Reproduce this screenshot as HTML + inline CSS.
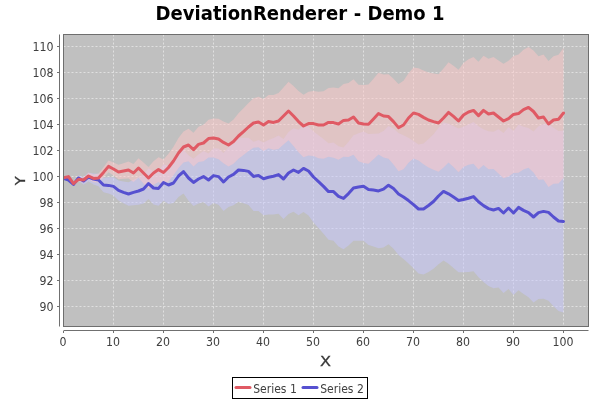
<!DOCTYPE html>
<html lang="en"><head><meta charset="utf-8"><title>DeviationRenderer - Demo 1</title>
<style>
html,body{margin:0;padding:0;background:#fff;}
body{width:600px;height:400px;overflow:hidden;}
svg{display:block;}
text{font-family:"DejaVu Sans Condensed","DejaVu Sans","Liberation Sans",sans-serif;}
.t{font-size:12px;fill:#404040;}
.al{font-family:"DejaVu Sans","Liberation Sans",sans-serif;font-size:14px;fill:#383838;stroke:#383838;stroke-width:0.3px;}
</style></head><body>
<svg width="600" height="400" viewBox="0 0 600 400">
<rect width="600" height="400" fill="#ffffff"/>
<text y="19.75" font-weight="bold" font-size="19.5" fill="#000"><tspan x="155.6" textLength="191.5" lengthAdjust="spacingAndGlyphs">DeviationRenderer</tspan><tspan x="347.5" textLength="97" lengthAdjust="spacingAndGlyphs"> - Demo 1</tspan></text>
<clipPath id="cp"><rect x="63.5" y="34.5" width="525.0" height="292.0"/></clipPath>
<rect x="63.5" y="34.5" width="525.0" height="292.0" fill="#c0c0c0"/>
<g stroke="#ffffff" stroke-width="1" stroke-dasharray="2 2" stroke-opacity="0.5" fill="none"><line x1="63.50" y1="34.5" x2="63.50" y2="326.5"/><line x1="113.50" y1="34.5" x2="113.50" y2="326.5"/><line x1="163.50" y1="34.5" x2="163.50" y2="326.5"/><line x1="213.50" y1="34.5" x2="213.50" y2="326.5"/><line x1="263.50" y1="34.5" x2="263.50" y2="326.5"/><line x1="313.50" y1="34.5" x2="313.50" y2="326.5"/><line x1="363.50" y1="34.5" x2="363.50" y2="326.5"/><line x1="413.50" y1="34.5" x2="413.50" y2="326.5"/><line x1="463.50" y1="34.5" x2="463.50" y2="326.5"/><line x1="513.50" y1="34.5" x2="513.50" y2="326.5"/><line x1="563.50" y1="34.5" x2="563.50" y2="326.5"/><line x1="63.5" y1="306.5" x2="588.5" y2="306.5"/><line x1="63.5" y1="280.5" x2="588.5" y2="280.5"/><line x1="63.5" y1="254.5" x2="588.5" y2="254.5"/><line x1="63.5" y1="228.5" x2="588.5" y2="228.5"/><line x1="63.5" y1="202.5" x2="588.5" y2="202.5"/><line x1="63.5" y1="176.5" x2="588.5" y2="176.5"/><line x1="63.5" y1="150.5" x2="588.5" y2="150.5"/><line x1="63.5" y1="124.5" x2="588.5" y2="124.5"/><line x1="63.5" y1="98.5" x2="588.5" y2="98.5"/><line x1="63.5" y1="72.5" x2="588.5" y2="72.5"/><line x1="63.5" y1="46.5" x2="588.5" y2="46.5"/></g>
<g clip-path="url(#cp)">
<path d="M63.50,178.40 L68.50,179.09 L73.50,182.58 L78.50,175.27 L83.50,177.36 L88.50,172.45 L93.50,173.54 L98.50,173.63 L103.50,177.72 L108.50,177.21 L113.50,177.30 L118.50,180.39 L123.50,181.48 L128.50,182.17 L133.50,179.66 L138.50,177.35 L143.50,174.44 L148.50,168.13 L153.50,171.62 L158.50,171.11 L163.50,164.30 L168.50,165.89 L173.50,162.98 L178.50,155.07 L183.50,149.76 L188.50,155.25 L193.50,158.74 L198.50,154.43 L203.50,151.12 L208.50,153.61 L213.50,148.30 L218.50,148.39 L223.50,152.88 L228.50,146.97 L233.50,143.46 L238.50,138.15 L243.50,137.64 L248.50,137.73 L253.50,141.82 L258.50,140.11 L263.50,142.40 L268.50,139.89 L273.50,137.98 L278.50,135.47 L283.50,138.96 L288.50,132.05 L293.50,128.14 L298.50,129.63 L303.50,124.72 L308.50,126.41 L313.50,131.50 L318.50,135.19 L323.50,139.08 L328.50,143.37 L333.50,142.46 L338.50,146.35 L343.50,147.44 L348.50,141.73 L353.50,135.22 L358.50,133.31 L363.50,131.60 L368.50,134.09 L373.50,133.68 L378.50,133.57 L383.50,130.96 L388.50,126.05 L393.50,128.54 L398.50,133.03 L403.50,135.22 L408.50,137.81 L413.50,140.90 L418.50,144.39 L423.50,143.48 L428.50,139.07 L433.50,134.16 L438.50,127.75 L443.50,122.24 L448.50,123.73 L453.50,126.02 L458.50,128.51 L463.50,126.70 L468.50,124.49 L473.50,121.98 L478.50,126.27 L483.50,129.16 L488.50,131.25 L493.50,131.74 L498.50,129.23 L503.50,132.92 L508.50,127.01 L513.50,131.10 L518.50,124.59 L523.50,126.68 L528.50,127.97 L533.50,131.46 L538.50,126.15 L543.50,124.04 L548.50,124.13 L553.50,127.82 L558.50,130.91 L563.50,130.40 L563.50,312.40 L558.50,311.09 L553.50,306.18 L548.50,300.67 L543.50,298.76 L538.50,299.05 L533.50,302.54 L528.50,297.23 L523.50,294.12 L518.50,290.21 L513.50,294.90 L508.50,288.99 L503.50,293.08 L498.50,287.57 L493.50,288.26 L488.50,285.95 L483.50,282.04 L478.50,277.33 L473.50,271.22 L468.50,271.91 L463.50,272.30 L458.50,272.29 L453.50,267.98 L448.50,263.87 L443.50,260.56 L438.50,264.25 L433.50,268.84 L428.50,271.93 L423.50,274.52 L418.50,273.61 L413.50,268.30 L408.50,263.39 L403.50,258.98 L398.50,254.97 L393.50,248.66 L388.50,244.35 L383.50,247.44 L378.50,248.23 L373.50,246.52 L368.50,245.11 L363.50,240.80 L358.50,240.69 L353.50,240.78 L348.50,245.47 L343.50,249.36 L338.50,246.45 L333.50,240.74 L328.50,239.83 L323.50,233.72 L318.50,228.01 L313.50,222.50 L308.50,215.59 L303.50,212.08 L298.50,215.17 L293.50,211.86 L288.50,213.95 L283.50,219.04 L278.50,213.73 L273.50,214.42 L268.50,214.51 L263.50,215.20 L258.50,211.09 L253.50,210.98 L248.50,205.07 L243.50,203.16 L238.50,201.85 L233.50,205.34 L228.50,207.03 L223.50,211.12 L218.50,204.81 L213.50,202.90 L208.50,206.39 L203.50,202.08 L198.50,203.57 L193.50,206.06 L188.50,200.75 L183.50,193.44 L178.50,196.93 L173.50,203.02 L168.50,204.11 L163.50,200.70 L158.50,205.69 L153.50,204.38 L148.50,199.07 L143.50,203.56 L138.50,204.65 L133.50,205.14 L128.50,205.83 L123.50,203.32 L118.50,200.41 L113.50,195.50 L108.50,193.59 L103.50,192.28 L98.50,186.37 L93.50,184.46 L88.50,181.55 L83.50,184.64 L78.50,180.73 L73.50,186.22 L68.50,180.91 L63.50,178.40Z" fill="#c8c8ff" fill-opacity="0.5"/>
<path d="M63.50,177.80 L68.50,175.95 L73.50,182.30 L78.50,177.35 L83.50,177.40 L88.50,172.75 L93.50,174.50 L98.50,173.45 L103.50,167.20 L108.50,160.55 L113.50,162.50 L118.50,164.85 L123.50,163.20 L128.50,161.55 L133.50,163.90 L138.50,158.25 L143.50,162.60 L148.50,166.95 L153.50,161.30 L158.50,157.25 L163.50,159.50 L168.50,153.85 L173.50,146.70 L178.50,138.05 L183.50,131.40 L188.50,128.75 L193.50,132.70 L198.50,126.85 L203.50,124.80 L208.50,119.75 L213.50,118.50 L218.50,118.85 L223.50,121.60 L228.50,123.55 L233.50,119.50 L238.50,113.25 L243.50,108.20 L248.50,102.95 L253.50,98.30 L258.50,96.65 L263.50,99.00 L268.50,94.95 L273.50,95.10 L278.50,93.05 L283.50,87.40 L288.50,81.75 L293.50,86.10 L298.50,91.05 L303.50,94.80 L308.50,91.75 L313.50,91.10 L318.50,91.85 L323.50,91.20 L328.50,87.95 L333.50,87.50 L338.50,88.25 L343.50,84.00 L348.50,82.95 L353.50,79.30 L358.50,84.65 L363.50,85.00 L368.50,84.55 L373.50,78.70 L378.50,72.65 L383.50,74.40 L388.50,74.35 L393.50,78.70 L398.50,84.05 L403.50,80.80 L408.50,73.15 L413.50,67.50 L418.50,68.25 L423.50,70.60 L428.50,72.55 L433.50,73.50 L438.50,74.25 L443.50,68.60 L448.50,62.35 L453.50,65.70 L458.50,69.65 L463.50,63.00 L468.50,59.35 L473.50,57.10 L478.50,61.65 L483.50,55.80 L488.50,58.75 L493.50,57.10 L498.50,60.45 L503.50,63.80 L508.50,60.75 L513.50,55.90 L518.50,54.45 L523.50,49.80 L528.50,46.95 L533.50,50.40 L538.50,56.25 L543.50,54.60 L548.50,60.95 L553.50,56.30 L558.50,54.85 L563.50,48.00 L563.50,178.00 L558.50,183.55 L553.50,183.70 L548.50,187.05 L543.50,179.40 L538.50,179.75 L533.50,172.60 L528.50,167.85 L523.50,169.40 L518.50,172.75 L513.50,172.90 L508.50,176.45 L503.50,178.20 L498.50,173.55 L493.50,168.90 L488.50,169.25 L483.50,165.00 L478.50,169.55 L473.50,163.70 L468.50,164.65 L463.50,167.00 L458.50,172.35 L453.50,167.10 L448.50,162.45 L443.50,167.40 L438.50,171.75 L433.50,169.70 L428.50,167.45 L423.50,164.20 L418.50,160.55 L413.50,158.50 L408.50,162.85 L403.50,169.20 L398.50,171.15 L393.50,164.50 L388.50,158.85 L383.50,157.60 L378.50,154.55 L373.50,159.30 L368.50,163.85 L363.50,163.00 L358.50,161.35 L353.50,154.70 L348.50,157.05 L343.50,156.80 L338.50,159.75 L333.50,157.70 L328.50,156.85 L323.50,158.80 L318.50,158.15 L313.50,156.10 L308.50,155.45 L303.50,157.20 L298.50,152.15 L293.50,145.90 L288.50,140.25 L283.50,144.60 L278.50,148.95 L273.50,149.70 L268.50,148.25 L263.50,151.00 L258.50,147.35 L253.50,147.70 L248.50,151.05 L243.50,155.00 L238.50,158.75 L233.50,163.70 L228.50,166.45 L223.50,163.20 L218.50,159.15 L213.50,157.50 L208.50,157.45 L203.50,161.20 L198.50,161.95 L193.50,166.50 L188.50,161.25 L183.50,162.60 L178.50,167.95 L173.50,175.30 L168.50,181.15 L163.50,185.50 L158.50,181.95 L153.50,184.70 L148.50,189.05 L143.50,183.40 L138.50,177.75 L133.50,182.10 L128.50,178.45 L123.50,178.80 L118.50,179.15 L113.50,175.50 L108.50,172.25 L103.50,177.60 L98.50,182.55 L93.50,182.30 L88.50,179.25 L83.50,182.60 L78.50,181.25 L73.50,184.90 L68.50,177.25 L63.50,177.80Z" fill="#ffc8c8" fill-opacity="0.5"/>
<path d="M63.50,178.40 L68.50,180.00 L73.50,184.40 L78.50,178.00 L83.50,181.00 L88.50,177.00 L93.50,179.00 L98.50,180.00 L103.50,185.00 L108.50,185.40 L113.50,186.40 L118.50,190.40 L123.50,192.40 L128.50,194.00 L133.50,192.40 L138.50,191.00 L143.50,189.00 L148.50,183.60 L153.50,188.00 L158.50,188.40 L163.50,182.50 L168.50,185.00 L173.50,183.00 L178.50,176.00 L183.50,171.60 L188.50,178.00 L193.50,182.40 L198.50,179.00 L203.50,176.60 L208.50,180.00 L213.50,175.60 L218.50,176.60 L223.50,182.00 L228.50,177.00 L233.50,174.40 L238.50,170.00 L243.50,170.40 L248.50,171.40 L253.50,176.40 L258.50,175.60 L263.50,178.80 L268.50,177.20 L273.50,176.20 L278.50,174.60 L283.50,179.00 L288.50,173.00 L293.50,170.00 L298.50,172.40 L303.50,168.40 L308.50,171.00 L313.50,177.00 L318.50,181.60 L323.50,186.40 L328.50,191.60 L333.50,191.60 L338.50,196.40 L343.50,198.40 L348.50,193.60 L353.50,188.00 L358.50,187.00 L363.50,186.20 L368.50,189.60 L373.50,190.10 L378.50,190.90 L383.50,189.20 L388.50,185.20 L393.50,188.60 L398.50,194.00 L403.50,197.10 L408.50,200.60 L413.50,204.60 L418.50,209.00 L423.50,209.00 L428.50,205.50 L433.50,201.50 L438.50,196.00 L443.50,191.40 L448.50,193.80 L453.50,197.00 L458.50,200.40 L463.50,199.50 L468.50,198.20 L473.50,196.60 L478.50,201.80 L483.50,205.60 L488.50,208.60 L493.50,210.00 L498.50,208.40 L503.50,213.00 L508.50,208.00 L513.50,213.00 L518.50,207.40 L523.50,210.40 L528.50,212.60 L533.50,217.00 L538.50,212.60 L543.50,211.40 L548.50,212.40 L553.50,217.00 L558.50,221.00 L563.50,221.40" fill="none" stroke="#5650d0" stroke-width="3" stroke-linecap="round" stroke-linejoin="round"/>
<path d="M63.50,177.80 L68.50,176.60 L73.50,183.60 L78.50,179.30 L83.50,180.00 L88.50,176.00 L93.50,178.40 L98.50,178.00 L103.50,172.40 L108.50,166.40 L113.50,169.00 L118.50,172.00 L123.50,171.00 L128.50,170.00 L133.50,173.00 L138.50,168.00 L143.50,173.00 L148.50,178.00 L153.50,173.00 L158.50,169.60 L163.50,172.50 L168.50,167.50 L173.50,161.00 L178.50,153.00 L183.50,147.00 L188.50,145.00 L193.50,149.60 L198.50,144.40 L203.50,143.00 L208.50,138.60 L213.50,138.00 L218.50,139.00 L223.50,142.40 L228.50,145.00 L233.50,141.60 L238.50,136.00 L243.50,131.60 L248.50,127.00 L253.50,123.00 L258.50,122.00 L263.50,125.00 L268.50,121.60 L273.50,122.40 L278.50,121.00 L283.50,116.00 L288.50,111.00 L293.50,116.00 L298.50,121.60 L303.50,126.00 L308.50,123.60 L313.50,123.60 L318.50,125.00 L323.50,125.00 L328.50,122.40 L333.50,122.60 L338.50,124.00 L343.50,120.40 L348.50,120.00 L353.50,117.00 L358.50,123.00 L363.50,124.00 L368.50,124.20 L373.50,119.00 L378.50,113.60 L383.50,116.00 L388.50,116.60 L393.50,121.60 L398.50,127.60 L403.50,125.00 L408.50,118.00 L413.50,113.00 L418.50,114.40 L423.50,117.40 L428.50,120.00 L433.50,121.60 L438.50,123.00 L443.50,118.00 L448.50,112.40 L453.50,116.40 L458.50,121.00 L463.50,115.00 L468.50,112.00 L473.50,110.40 L478.50,115.60 L483.50,110.40 L488.50,114.00 L493.50,113.00 L498.50,117.00 L503.50,121.00 L508.50,118.60 L513.50,114.40 L518.50,113.60 L523.50,109.60 L528.50,107.40 L533.50,111.50 L538.50,118.00 L543.50,117.00 L548.50,124.00 L553.50,120.00 L558.50,119.20 L563.50,113.00" fill="none" stroke="#e05a64" stroke-width="3" stroke-linecap="round" stroke-linejoin="round"/>
</g>
<rect x="63.5" y="34.5" width="525.0" height="292.0" fill="none" stroke="#6e6e6e" stroke-width="1"/>
<g stroke="#707070" stroke-width="1" fill="none">
<line x1="59.5" y1="34.5" x2="59.5" y2="326.5"/>
<line x1="63.5" y1="330.5" x2="588.5" y2="330.5"/>
<line x1="63.5" y1="331" x2="63.5" y2="333"/>
<line x1="113.5" y1="331" x2="113.5" y2="333"/>
<line x1="163.5" y1="331" x2="163.5" y2="333"/>
<line x1="213.5" y1="331" x2="213.5" y2="333"/>
<line x1="263.5" y1="331" x2="263.5" y2="333"/>
<line x1="313.5" y1="331" x2="313.5" y2="333"/>
<line x1="363.5" y1="331" x2="363.5" y2="333"/>
<line x1="413.5" y1="331" x2="413.5" y2="333"/>
<line x1="463.5" y1="331" x2="463.5" y2="333"/>
<line x1="513.5" y1="331" x2="513.5" y2="333"/>
<line x1="563.5" y1="331" x2="563.5" y2="333"/>
<line x1="57" y1="306.5" x2="59" y2="306.5"/>
<line x1="57" y1="280.5" x2="59" y2="280.5"/>
<line x1="57" y1="254.5" x2="59" y2="254.5"/>
<line x1="57" y1="228.5" x2="59" y2="228.5"/>
<line x1="57" y1="202.5" x2="59" y2="202.5"/>
<line x1="57" y1="176.5" x2="59" y2="176.5"/>
<line x1="57" y1="150.5" x2="59" y2="150.5"/>
<line x1="57" y1="124.5" x2="59" y2="124.5"/>
<line x1="57" y1="98.5" x2="59" y2="98.5"/>
<line x1="57" y1="72.5" x2="59" y2="72.5"/>
<line x1="57" y1="46.5" x2="59" y2="46.5"/>
</g>
<text class="t" x="59.60" y="346" textLength="7.00" lengthAdjust="spacingAndGlyphs">0</text>
<text class="t" x="106.10" y="346" textLength="14.00" lengthAdjust="spacingAndGlyphs">10</text>
<text class="t" x="156.10" y="346" textLength="14.00" lengthAdjust="spacingAndGlyphs">20</text>
<text class="t" x="206.10" y="346" textLength="14.00" lengthAdjust="spacingAndGlyphs">30</text>
<text class="t" x="256.10" y="346" textLength="14.00" lengthAdjust="spacingAndGlyphs">40</text>
<text class="t" x="306.10" y="346" textLength="14.00" lengthAdjust="spacingAndGlyphs">50</text>
<text class="t" x="356.10" y="346" textLength="14.00" lengthAdjust="spacingAndGlyphs">60</text>
<text class="t" x="406.10" y="346" textLength="14.00" lengthAdjust="spacingAndGlyphs">70</text>
<text class="t" x="456.10" y="346" textLength="14.00" lengthAdjust="spacingAndGlyphs">80</text>
<text class="t" x="506.10" y="346" textLength="14.00" lengthAdjust="spacingAndGlyphs">90</text>
<text class="t" x="552.60" y="346" textLength="21.00" lengthAdjust="spacingAndGlyphs">100</text>
<text class="t" x="39.60" y="311.2" textLength="14.00" lengthAdjust="spacingAndGlyphs">90</text>
<text class="t" x="39.60" y="285.2" textLength="14.00" lengthAdjust="spacingAndGlyphs">92</text>
<text class="t" x="39.60" y="259.2" textLength="14.00" lengthAdjust="spacingAndGlyphs">94</text>
<text class="t" x="39.60" y="233.2" textLength="14.00" lengthAdjust="spacingAndGlyphs">96</text>
<text class="t" x="39.60" y="207.2" textLength="14.00" lengthAdjust="spacingAndGlyphs">98</text>
<text class="t" x="32.60" y="181.2" textLength="21.00" lengthAdjust="spacingAndGlyphs">100</text>
<text class="t" x="32.60" y="155.2" textLength="21.00" lengthAdjust="spacingAndGlyphs">102</text>
<text class="t" x="32.60" y="129.2" textLength="21.00" lengthAdjust="spacingAndGlyphs">104</text>
<text class="t" x="32.60" y="103.2" textLength="21.00" lengthAdjust="spacingAndGlyphs">106</text>
<text class="t" x="32.60" y="77.2" textLength="21.00" lengthAdjust="spacingAndGlyphs">108</text>
<text class="t" x="32.60" y="51.2" textLength="21.00" lengthAdjust="spacingAndGlyphs">110</text>
<text class="al" x="319.9" y="365.9" textLength="11" lengthAdjust="spacingAndGlyphs">X</text>
<text class="al" transform="translate(24.9,185.2) rotate(-90)" x="0" y="0" textLength="9.0" lengthAdjust="spacingAndGlyphs">Y</text>
<rect x="232.5" y="377.5" width="135" height="21" fill="#fff" stroke="#000" stroke-width="1"/>
<line x1="236" y1="387.5" x2="250" y2="387.5" stroke="#e05a64" stroke-width="3" stroke-linecap="round"/>
<text class="t" x="253.2" y="392.5" textLength="43.6" lengthAdjust="spacingAndGlyphs">Series 1</text>
<line x1="303" y1="387.5" x2="317" y2="387.5" stroke="#5650d0" stroke-width="3" stroke-linecap="round"/>
<text class="t" x="320.2" y="392.5" textLength="43.6" lengthAdjust="spacingAndGlyphs">Series 2</text>
</svg></body></html>
